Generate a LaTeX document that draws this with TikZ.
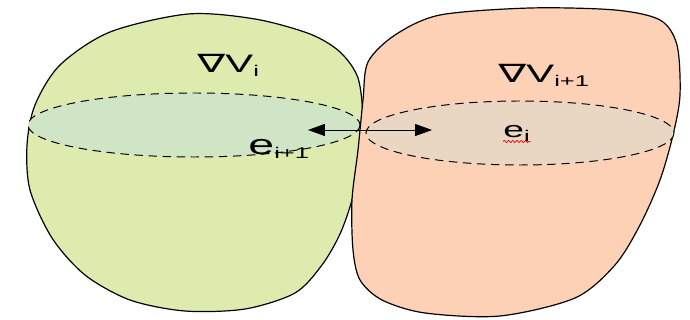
\documentclass[tikz,border=0pt]{standalone}
\usepackage{fontspec}
\setmainfont{Liberation Sans}
\newfontfamily\nablafont{DejaVu Sans}
\usetikzlibrary{arrows.meta, decorations.pathmorphing}

\definecolor{cellgreen}{HTML}{DDEBAF}
\definecolor{discgreen}{HTML}{CFE5C5}
\definecolor{cellpeach}{HTML}{FDD1B6}
\definecolor{discpeach}{HTML}{EAD7C3}

\newcommand{\lowidx}[1]{\raisebox{-2.5pt}{\fontsize{11}{12}\selectfont #1}}

\begin{document}
\begin{tikzpicture}[
  x=0.025cm, y=-0.025cm,
  >={Triangle[length=12pt, width=8.5pt]},
  every node/.style={inner sep=0pt, xscale=1.65, anchor=base west}
]
\tikzset{
  cell/.style  ={draw=black, line width=0.85pt},
  disc/.style  ={draw=black, line width=0.7pt, dash pattern=on 6pt off 4pt},
  arr/.style   ={->, line width=0.7pt},
  gradlab/.style={font=\fontsize{18}{20}\selectfont},
  edgelab/.style={font=\fontsize{20}{22}\selectfont},
  spell/.style ={draw=red, line width=0.5pt,
                 decorate, decoration={snake, amplitude=0.8pt, segment length=3pt}}
}
\useasboundingbox (0,0) rectangle (690,320);

%% ----- Left cell -----
\draw[cell, fill=cellgreen] plot[smooth cycle] coordinates {
  (188,14) (255,19) (310,34) (340,52) (358,78) (363,120) (360,162)
  (352,200) (340,234) (322,265) (295,293) (245,309) (185,311) (130,300)
  (85,275) (52,238) (30,190) (27,145) (35,105) (60,65) (110,32)};

%% ----- Right cell -----
\draw[cell, fill=cellpeach] plot[smooth cycle] coordinates {
  (368,62) (395,35) (440,15) (530,8) (615,10) (660,20) (677,45)
  (680,95) (673,135) (660,180) (640,225) (615,265) (575,298) (500,316)
  (425,313) (382,300) (360,280) (353,250) (352,200) (358,150) (363,100)};

%% ----- Cross sections -----
\draw[disc, fill=discgreen] (194,125) ellipse [x radius=166, y radius=32];
\draw[disc, fill=discpeach] (520,133) ellipse [x radius=154, y radius=32];

%% ----- Labels -----
\node[gradlab] (gradL) at (197,73) {{\nablafont ∇}V\lowidx{i}};
\node[gradlab] (gradR) at (498,83) {{\nablafont ∇}V\lowidx{i+1}};
\node[edgelab] (edgeL) at (248,155) {e\lowidx{i+1}};
\node[edgelab, font=\fontsize{16}{18}\selectfont] (edgeR) at (503,138) {e\lowidx{i}};
\draw[spell] ([yshift=-2.5pt]edgeR.base west) -- ([yshift=-2.5pt]edgeR.base east);

%% ----- Exchange arrows -----
\coordinate (touch) at (362,130);
\coordinate (tipL)  at (308,130);
\coordinate (tipR)  at (432,130);
\draw[arr] (touch) -- (tipL);
\draw[arr] (touch) -- (tipR);

\end{tikzpicture}
\end{document}
